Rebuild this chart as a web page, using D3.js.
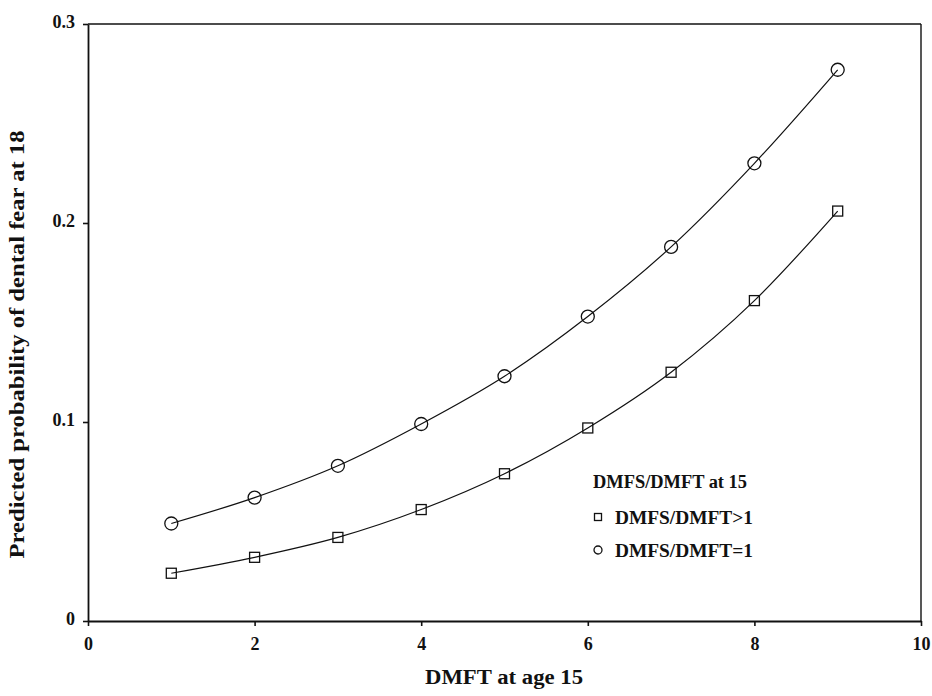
<!DOCTYPE html>
<html>
<head>
<meta charset="utf-8">
<script src="https://cdn.jsdelivr.net/npm/d3@7"></script>
<style>
  body { margin: 0; background: #fff; }
  text { font-family: "Liberation Serif", "Times New Roman", serif; font-weight: bold; fill: #111; }
</style>
</head>
<body>
<div id="chart"></div>
<script>
// data
var dmft = [1, 2, 3, 4, 5, 6, 7, 8, 9];
var ratioEq1 = [0.049, 0.062, 0.078, 0.099, 0.123, 0.153, 0.188, 0.230, 0.277];
var ratioGt1 = [0.024, 0.032, 0.042, 0.056, 0.074, 0.097, 0.125, 0.161, 0.206];
var xTicks = [0, 2, 4, 6, 8, 10];
var yTicks = [0, 0.1, 0.2, 0.3];
var legendTitle = "DMFS/DMFT at 15";
var seriesNames = ["DMFS/DMFT>1", "DMFS/DMFT=1"];

var svgWidth = 932;
var svgHeight = 696;
var margin = { top: 24, right: 11, bottom: 75, left: 88 };
var width = svgWidth - margin.left - margin.right;
var height = svgHeight - margin.top - margin.bottom;

var svg = d3.select("#chart")
  .append("svg")
  .attr("width", svgWidth)
  .attr("height", svgHeight);

var chartGroup = svg.append("g")
  .attr("transform", `translate(${margin.left}, ${margin.top})`);

var xScale = d3.scaleLinear().domain([0, 10]).range([0, width]);
var yScale = d3.scaleLinear().domain([0, 0.3]).range([height, 0]);

// frame: top and right edges thinner
chartGroup.append("line")
  .attr("x1", 0).attr("x2", width).attr("y1", 0).attr("y2", 0)
  .attr("stroke", "#111").attr("stroke-width", 1.4);
chartGroup.append("line")
  .attr("x1", width).attr("x2", width).attr("y1", 0).attr("y2", height)
  .attr("stroke", "#111").attr("stroke-width", 1.4);

// axes
var bottomAxis = d3.axisBottom(xScale)
  .tickValues(xTicks)
  .tickSize(5)
  .tickSizeOuter(0)
  .tickPadding(10)
  .tickFormat(d3.format("d"));
var leftAxis = d3.axisLeft(yScale)
  .tickValues(yTicks)
  .tickSize(5)
  .tickSizeOuter(0)
  .tickPadding(8)
  .tickFormat(d => d === 0 ? "0" : d3.format(".1f")(d));

var xAxisG = chartGroup.append("g")
  .attr("transform", `translate(0, ${height})`)
  .call(bottomAxis);
var yAxisG = chartGroup.append("g")
  .call(leftAxis);

[xAxisG, yAxisG].forEach(function (g) {
  g.select(".domain").attr("stroke", "#111").attr("stroke-width", 1.8);
  g.selectAll(".tick line").attr("stroke", "#111").attr("stroke-width", 1.6);
  g.selectAll(".tick text")
    .style("font-family", "'Liberation Serif', serif")
    .style("font-weight", "bold")
    .style("font-size", "18px")
    .attr("fill", "#111");
});
yAxisG.selectAll(".tick text").attr("dy", "0.2em");
xAxisG.selectAll(".tick text").attr("dy", "0.75em");

// lines
var line = d3.line()
  .x((d, i) => xScale(dmft[i]))
  .y(d => yScale(d))
  .curve(d3.curveMonotoneX);

[ratioGt1, ratioEq1].forEach(function (vals) {
  chartGroup.append("path")
    .datum(vals)
    .attr("d", line)
    .attr("fill", "none")
    .attr("stroke", "#111")
    .attr("stroke-width", 1.2);
});

// markers
chartGroup.selectAll(".sq")
  .data(ratioGt1)
  .enter()
  .append("rect")
  .attr("class", "sq")
  .attr("x", (d, i) => xScale(dmft[i]) - 5)
  .attr("y", d => yScale(d) - 5)
  .attr("width", 10)
  .attr("height", 10)
  .attr("fill", "none")
  .attr("stroke", "#111")
  .attr("stroke-width", 1.3);

chartGroup.selectAll(".ci")
  .data(ratioEq1)
  .enter()
  .append("circle")
  .attr("class", "ci")
  .attr("cx", (d, i) => xScale(dmft[i]))
  .attr("cy", d => yScale(d))
  .attr("r", 6.5)
  .attr("fill", "none")
  .attr("stroke", "#111")
  .attr("stroke-width", 1.3);

// legend
var legend = svg.append("g").attr("transform", "translate(593, 0)");
legend.append("text")
  .attr("x", 0).attr("y", 488)
  .style("font-size", "18px")
  .attr("textLength", 154)
  .attr("lengthAdjust", "spacingAndGlyphs")
  .text(legendTitle);
legend.append("rect")
  .attr("x", 1.5).attr("y", 513.5).attr("width", 7).attr("height", 7)
  .attr("fill", "none").attr("stroke", "#111").attr("stroke-width", 1.3);
legend.append("circle")
  .attr("cx", 5).attr("cy", 550).attr("r", 4)
  .attr("fill", "none").attr("stroke", "#111").attr("stroke-width", 1.3);
legend.selectAll(".lt")
  .data(seriesNames)
  .enter()
  .append("text")
  .attr("class", "lt")
  .attr("x", 22)
  .attr("y", (d, i) => 524 + i * 33)
  .style("font-size", "19px")
  .attr("textLength", 138)
  .attr("lengthAdjust", "spacingAndGlyphs")
  .text(d => d);

// axis labels
svg.append("text")
  .attr("transform", `translate(24, ${margin.top + height / 2 + 22}) rotate(-90)`)
  .attr("text-anchor", "middle")
  .style("font-size", "20px")
  .attr("textLength", 428)
  .attr("lengthAdjust", "spacingAndGlyphs")
  .text("Predicted probability of dental fear at 18");

svg.append("text")
  .attr("x", 504)
  .attr("y", 684)
  .attr("text-anchor", "middle")
  .style("font-size", "20px")
  .attr("textLength", 158)
  .attr("lengthAdjust", "spacingAndGlyphs")
  .text("DMFT at age 15");
</script>
</body>
</html>
